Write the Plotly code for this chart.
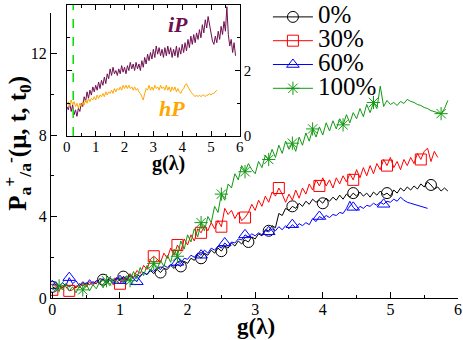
import plotly.graph_objects as go

# every curve is sampled on a regular g(lambda) grid starting at 0
STEP = 0.05

# ---- main panel: P_{a+/a-} vs g(lambda) for four dilutions -------------
labels = ["0%", "30%", "60%", "100%"]

p_0 = [0.55, 0.45, 0.60, 0.50, 0.70, 0.55, 0.65, 0.50, 0.70, 0.60,
       0.75, 0.65, 0.80, 0.70, 0.95, 0.90, 0.80, 1.00, 0.85, 0.95,
       0.90, 1.05, 0.95, 1.10, 1.00, 1.15, 1.05, 1.25, 1.15, 1.35,
       1.20, 1.40, 1.25, 1.45, 1.40, 1.60, 1.45, 1.65, 1.55, 1.80,
       1.70, 1.95, 1.85, 2.10, 1.95, 2.20, 2.10, 2.35, 2.20, 2.45,
       2.30, 2.55, 2.45, 2.70, 2.55, 2.80, 2.65, 2.85, 2.75, 3.00,
       2.90, 3.15, 3.05, 3.35, 3.30, 3.55, 3.45, 4.15, 4.05, 4.40,
       4.30, 4.50, 4.40, 4.65, 4.50, 4.75, 4.60, 4.85, 4.70, 4.80,
       4.65, 4.90, 4.75, 4.95, 4.80, 5.05, 4.85, 5.10, 4.95, 5.15,
       5.00, 5.20, 5.00, 5.15, 4.95, 5.20, 5.05, 5.25, 5.05, 5.15,
       5.00, 5.30, 5.15, 5.40, 5.25, 5.45, 5.30, 5.50, 5.35, 5.60,
       5.45, 5.70, 5.55, 5.35, 5.45, 5.25, 5.40, 5.25]

p_30 = [0.40, 0.55, 0.35, 0.60, 0.55, 0.35, 0.40, 0.60, 0.50, 0.75,
        0.55, 0.80, 0.60, 0.85, 0.70, 0.95, 0.75, 0.90, 0.65, 0.85,
        0.70, 1.00, 0.85, 1.20, 1.00, 1.35, 1.20, 1.60, 1.40, 1.90,
        2.05, 1.90, 1.75, 2.20, 1.95, 2.45, 2.10, 2.60, 2.30, 2.90,
        2.60, 3.10, 2.80, 3.40, 3.20, 3.55, 3.30, 3.70, 3.40, 3.80,
        3.50, 4.40, 4.10, 4.30, 3.90, 4.20, 3.80, 3.95, 4.20, 4.60,
        4.30, 4.80, 4.50, 5.00, 4.70, 5.20, 5.00, 5.40, 5.10, 4.70,
        5.10, 4.80, 5.30, 4.90, 5.40, 5.10, 5.60, 5.30, 5.80, 5.50,
        5.90, 5.50, 5.80, 5.40, 5.90, 5.60, 6.00, 5.70, 6.10, 5.80,
        6.30, 5.90, 6.40, 6.00, 6.50, 6.10, 6.60, 6.30, 6.80, 6.50,
        6.90, 6.40, 6.70, 6.30, 6.80, 6.50, 6.90, 6.60, 7.10, 6.80,
        7.20, 7.35, 6.70, 7.20, 6.90]

p_60 = [0.60, 0.80, 0.55, 0.75, 0.60, 1.00, 0.70, 0.85, 0.60, 0.80,
        0.65, 0.90, 0.70, 0.85, 0.75, 0.95, 0.70, 0.90, 0.75, 1.00,
        0.85, 1.05, 0.90, 1.10, 0.95, 0.80, 1.10, 1.25, 1.15, 1.40,
        1.30, 1.50, 1.40, 1.60, 1.50, 1.65, 1.55, 1.75, 1.70, 1.95,
        1.90, 2.10, 2.00, 2.20, 2.10, 2.35, 2.20, 2.45, 2.35, 2.55,
        2.45, 2.70, 2.55, 2.75, 2.70, 2.90, 2.85, 3.10, 3.00, 3.15,
        3.05, 3.20, 3.10, 3.30, 3.25, 3.40, 3.30, 3.50, 3.35, 3.55,
        3.40, 3.60, 3.45, 3.65, 3.55, 3.70, 3.60, 3.90, 3.75, 4.00,
        3.90, 4.05, 3.95, 4.10, 4.05, 4.20, 4.15, 4.40, 4.75, 4.45,
        4.30, 4.50, 4.40, 4.55, 4.50, 4.65, 4.55, 4.70, 4.60, 4.75,
        4.70, 4.85, 4.75, 4.95, 4.80, 4.70, 4.65, 4.60, 4.55, 4.50,
        4.45, 4.40]

p_100 = [0.50, 0.30, 0.60, 0.40, 0.70, 0.35, 0.55, 0.25, 0.60, 0.40,
         0.70, 0.35, 0.65, 0.45, 0.80, 0.50, 0.85, 0.60, 0.95, 0.70,
         1.00, 0.80, 1.10, 0.85, 1.30, 0.95, 1.50, 1.10, 1.60, 1.30,
         1.70, 1.40, 1.85, 1.55, 2.10, 1.75, 2.40, 2.05, 2.80, 2.40,
         3.10, 2.75, 3.40, 3.00, 3.70, 3.30, 4.00, 3.70, 4.50, 4.20,
         5.10, 4.80, 5.60, 5.40, 6.10, 5.80, 6.50, 6.20, 6.60, 6.30,
         6.10, 6.70, 6.40, 7.00, 6.80, 7.30, 6.90, 7.50, 7.10, 7.70,
         7.30, 7.60, 7.20, 7.90, 7.50, 8.10, 7.70, 8.30, 7.90, 8.40,
         8.00, 8.60, 8.20, 8.70, 8.30, 8.80, 8.50, 9.00, 8.60, 9.10,
         8.80, 9.30, 8.90, 9.50, 9.10, 9.60, 9.30, 10.40, 9.40, 9.70,
         9.50, 9.60, 9.45, 9.65, 9.55, 9.75, 9.65, 9.60, 9.50, 9.45,
         9.35, 9.30, 9.20, 9.15, 9.10, 9.05, 9.30, 9.70]

# which samples carry a symbol (xmgrace-style sparse symbols)
marks_0 = [0, 15, 21, 32, 38, 44, 50, 58, 64, 71, 80, 89, 99, 112]
marks_30 = [0, 5, 20, 30, 37, 44, 50, 57, 67, 79, 89, 99, 109]
marks_60 = [0, 5, 20, 25, 37, 44, 51, 57, 64, 71, 79, 89, 98]
marks_100 = [2, 9, 16, 23, 30, 37, 44, 50, 57, 64, 71, 77, 86, 95, 115]

# ---- inset: iP and hP ---------------------------------------------------
ip = [0.90, 0.80, 1.00, 0.75, 0.95, 0.65, 0.80, 0.60, 0.85, 0.75,
      1.00, 0.90, 1.20, 1.05, 1.35, 1.15, 1.40, 1.25, 1.50, 1.35,
      1.55, 1.40, 1.65, 1.45, 1.70, 1.55, 1.80, 1.60, 1.90, 1.75,
      2.05, 1.85, 2.10, 1.90, 2.00, 1.85, 2.05, 1.90, 2.15, 1.95,
      2.10, 1.90, 2.15, 2.00, 2.25, 2.05, 2.20, 2.00, 2.25, 2.05,
      2.20, 2.00, 2.30, 2.10, 2.40, 2.20, 2.50, 2.30, 2.55, 2.35,
      2.65, 2.40, 2.75, 2.50, 2.70, 2.45, 2.65, 2.40, 2.70, 2.45,
      2.75, 2.50, 2.70, 2.40, 2.65, 2.45, 2.75, 2.40, 2.70, 2.50,
      2.80, 2.55, 2.85, 2.60, 2.95, 2.70, 3.05, 2.80, 3.10, 2.85,
      3.15, 2.95, 3.25, 3.00, 3.40, 3.15, 3.55, 3.30, 3.65, 3.40,
      3.20, 2.90, 2.80, 3.05, 2.85, 3.20, 2.95, 3.35, 3.10, 3.50,
      3.20, 3.95, 3.10, 2.75, 2.95, 2.55, 2.85, 2.45]

hp = [0.95, 1.05, 0.90, 1.10, 0.95, 1.05, 0.90, 1.00, 0.85, 1.00,
      0.90, 1.05, 0.95, 1.10, 1.00, 1.15, 1.05, 1.15, 1.10, 1.20,
      1.10, 1.25, 1.15, 1.25, 1.20, 1.30, 1.20, 1.35, 1.25, 1.35,
      1.30, 1.40, 1.30, 1.45, 1.35, 1.45, 1.40, 1.50, 1.40, 1.55,
      1.45, 1.55, 1.45, 1.55, 1.45, 1.50, 1.40, 1.50, 1.40, 1.45,
      1.35, 1.30, 1.20, 1.10, 1.30, 1.45, 1.40, 1.55, 1.40, 1.50,
      1.40, 1.55, 1.45, 1.50, 1.40, 1.55, 1.45, 1.50, 1.40, 1.55,
      1.40, 1.50, 1.35, 1.50, 1.40, 1.50, 1.35, 1.45, 1.35, 1.30,
      1.40, 1.45, 1.55, 1.60, 1.50, 1.40, 1.35, 1.30, 1.25, 1.20,
      1.25, 1.20, 1.25, 1.20, 1.25, 1.25, 1.20, 1.25, 1.25, 1.30,
      1.25, 1.30, 1.30, 1.35, 1.40]

t0_mark = 0.22  # green dashed marker in the inset

SERIF = "Liberation Serif"
PURPLE = "#6e1050"
ORANGE = "#ffa500"

series = [
    (labels[0], p_0, marks_0, "black", "circle-open"),
    (labels[1], p_30, marks_30, "#ff0000", "square-open"),
    (labels[2], p_60, marks_60, "#0000ff", "triangle-up-open"),
    (labels[3], p_100, marks_100, "#119911", "asterisk-open"),
]

fig = go.Figure()

for name, vals, marks, color, sym in series:
    fig.add_trace(go.Scatter(
        y=vals, x0=0, dx=STEP, mode="lines", showlegend=False,
        line=dict(color=color, width=1)))
    fig.add_trace(go.Scatter(
        y=vals, x0=0, dx=STEP, mode="markers", showlegend=False,
        selectedpoints=marks,
        selected=dict(marker=dict(opacity=1)),
        unselected=dict(marker=dict(opacity=0)),
        marker=dict(symbol=sym, size=11, color=color,
                    line=dict(color=color, width=1))))
    # legend entry only (big text, compact rows like the original)
    fig.add_trace(go.Scatter(
        x=[None], y=[None], mode="lines+markers",
        name=f"<span style='font-size:25px'>{name}</span>",
        line=dict(color=color, width=1),
        marker=dict(symbol=sym, size=11, color=color,
                    line=dict(color=color, width=1))))

fig.add_trace(go.Scatter(
    y=ip, x0=0, dx=STEP, mode="lines", showlegend=False,
    xaxis="x2", yaxis="y2", line=dict(color=PURPLE, width=1)))
fig.add_trace(go.Scatter(
    y=hp, x0=0, dx=STEP, mode="lines", showlegend=False,
    xaxis="x2", yaxis="y2", line=dict(color=ORANGE, width=1)))

fig.add_shape(type="line", xref="x2", yref="y2",
              x0=t0_mark, x1=t0_mark, y0=0, y1=4,
              line=dict(color="#00dd00", width=1.5, dash="dash"))

fig.add_annotation(xref="x2", yref="y2", x=3.85, y=3.4, text="<b><i>iP</i></b>",
                   showarrow=False, font=dict(family=SERIF, size=22, color=PURPLE))
fig.add_annotation(xref="x2", yref="y2", x=3.65, y=0.85, text="<b><i>hP</i></b>",
                   showarrow=False, font=dict(family=SERIF, size=22, color=ORANGE))

# axis titles placed as annotations for tight control
fig.add_annotation(xref="paper", yref="paper", x=0.503, y=-0.097,
                   text="<b>g(λ)</b>", showarrow=False, yanchor="middle",
                   font=dict(family=SERIF, size=23, color="black"))
fig.add_annotation(xref="paper", yref="paper", x=0.243, y=0.45,
                   text="<b>g(λ)</b>", showarrow=False, yanchor="middle",
                   font=dict(family=SERIF, size=20, color="black"))
fig.add_annotation(xref="paper", yref="paper", x=-0.082, y=0.52,
                   text="<b>P<sub>a</sub><sup>+</sup><sub>/a</sub><sup>-</sup>"
                        "(μ, t, t<sub>0</sub>)</b>",
                   showarrow=False, textangle=-90, xanchor="center", yanchor="middle",
                   font=dict(family=SERIF, size=25, color="black"))

axis_common = dict(showline=True, linecolor="black", linewidth=1,
                   ticks="inside", tickcolor="black", ticklen=6,
                   showgrid=False, zeroline=False,
                   tickfont=dict(family=SERIF, size=16, color="black"))

fig.update_layout(
    width=463, height=340,
    margin=dict(l=51, r=5, t=0, b=42),
    paper_bgcolor="white", plot_bgcolor="white",
    font=dict(family=SERIF, color="black"),
    xaxis=dict(axis_common, range=[-0.02, 6], dtick=1, tick0=0,
               ticklabelstandoff=-3,
               minor=dict(dtick=0.5, ticks="inside", ticklen=3, tickcolor="black")),
    yaxis=dict(axis_common, domain=[0, 0.957], range=[0, 14], dtick=4, tick0=0,
               minor=dict(dtick=2, ticks="inside", ticklen=3, tickcolor="black")),
    xaxis2=dict(axis_common, domain=[0.039, 0.464], anchor="y2",
                range=[0, 6], dtick=1, tick0=0, mirror="ticks", ticklen=5,
                ticklabelstandoff=-3,
                tickfont=dict(family=SERIF, size=15, color="black"),
                minor=dict(dtick=0.5, ticks="inside", ticklen=3, tickcolor="black")),
    yaxis2=dict(axis_common, domain=[0.5436, 0.983], anchor="x2", side="right",
                range=[0, 4], dtick=2, tick0=0, mirror="ticks", ticklen=5,
                tickfont=dict(family=SERIF, size=15, color="black"),
                minor=dict(dtick=1, ticks="inside", ticklen=3, tickcolor="black")),
    legend=dict(x=0.533, y=1.0, xanchor="left", yanchor="top",
                bgcolor="rgba(0,0,0,0)", borderwidth=0,
                font=dict(family=SERIF, size=16, color="black"),
                itemwidth=40, tracegroupgap=0),
)

# the page's default body margin would shift the figure by 8px
fig.write_html("out.html", config={"displayModeBar": False},
               post_script="document.body.style.margin='0';")
